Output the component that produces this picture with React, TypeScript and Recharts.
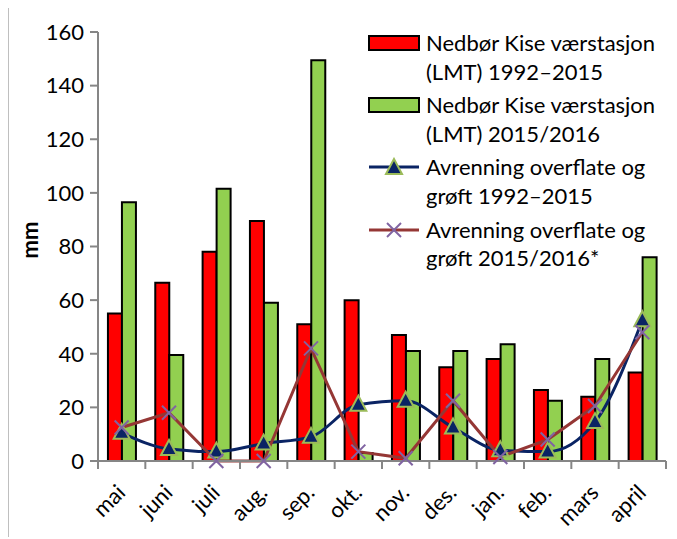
import React from 'react'
import { ComposedChart, Bar, Line, XAxis, YAxis, Label } from 'recharts'

const months = ['mai', 'juni', 'juli', 'aug.', 'sep.', 'okt.', 'nov.', 'des.', 'jan.', 'feb.', 'mars', 'april']
const rainNormal = [55, 66.5, 78, 89.5, 51, 60, 47, 35, 38, 26.5, 24, 33]
const rain1516 = [96.5, 39.5, 101.5, 59, 149.5, 3, 41, 41, 43.5, 22.5, 38, 76]
const runoffNormal = [10.5, 4.5, 3.5, 6.5, 9, 21, 22.5, 12.5, 4, 3.5, 14.5, 52.5]
const runoff1516 = [12.5, 18, 0, 0, 42, 3.5, 1, 22.5, 1.5, 8, 20.5, 48]
const yTicks = [0, 20, 40, 60, 80, 100, 120, 140, 160]

const legendLabels = [
  ['Nedbør Kise værstasjon', '(LMT) 1992–2015'],
  ['Nedbør Kise værstasjon', '(LMT) 2015/2016'],
  ['Avrenning overflate og', 'grøft 1992–2015'],
  ['Avrenning overflate og', 'grøft 2015/2016*'],
]

const data = months.map((m, i) => ({
  month: m,
  rainNormal: rainNormal[i],
  rain1516: rain1516[i],
  runoffNormal: runoffNormal[i],
  runoff1516: runoff1516[i],
}))

const FONT = 'Lato, "Open Sans", sans-serif'
const FS = 22
const W = 669
const H = 529
const M = { top: 24, right: 11, left: 30, bottom: 6 }
const Y_W = 60
const X_H = 70
const plotW = W - M.left - M.right - Y_W
const half = plotW / months.length / 2
const plotBottom = H - M.bottom - X_H

const NAVY = '#0a2464'
const BROWN = '#953735'
const PURPLE = '#8064a2'
const OLIVE = '#9bbb59'

const Triangle = ({ cx, cy }: any) => {
  if (cx == null || cy == null) return null
  return (
    <polygon
      points={`${cx},${cy - 9} ${cx - 8},${cy + 6} ${cx + 8},${cy + 6}`}
      fill={NAVY}
      stroke={OLIVE}
      strokeWidth={2}
    />
  )
}

const Cross = ({ cx, cy }: any) => {
  if (cx == null || cy == null) return null
  return (
    <g stroke={PURPLE} strokeWidth={2}>
      <line x1={cx - 7} y1={cy - 7} x2={cx + 7} y2={cy + 7} />
      <line x1={cx - 7} y1={cy + 7} x2={cx + 7} y2={cy - 7} />
    </g>
  )
}

const MonthTick = ({ x, y, payload, index }: any) => (
  <g>
    <line x1={x - half} y1={plotBottom} x2={x - half} y2={plotBottom + 8} stroke="#868686" strokeWidth={2} />
    {index === months.length - 1 && (
      <line x1={x + half} y1={plotBottom} x2={x + half} y2={plotBottom + 8} stroke="#868686" strokeWidth={2} />
    )}
    <text
      x={x + 5}
      y={y + 25}
      transform={`rotate(-45, ${x + 5}, ${y + 25})`}
      textAnchor="end"
      fontSize={FS}
      fontFamily={FONT}
      fill="#000"
    >
      {payload.value}
    </text>
  </g>
)

function LegendBox() {
  const rowTop = [43, 105, 167, 229.5]
  return (
    <div style={{ position: 'absolute', left: 0, top: 0, fontFamily: FONT, fontSize: FS, color: '#000' }}>
      {legendLabels.map((lines, i) => (
        <div key={i}>
          <svg
            width={54}
            height={20}
            style={{ position: 'absolute', left: 367, top: rowTop[i] - 10 }}
          >
            {i === 0 && <rect x={2} y={3} width={50} height={14} fill="#ff0000" stroke="#000" strokeWidth={2} />}
            {i === 1 && <rect x={2} y={3} width={50} height={14} fill="#92d050" stroke="#000" strokeWidth={2} />}
            {i === 2 && (
              <g>
                <line x1={2} y1={10} x2={52} y2={10} stroke={NAVY} strokeWidth={3} />
                <Triangle cx={27} cy={11} />
              </g>
            )}
            {i === 3 && (
              <g>
                <line x1={2} y1={10} x2={52} y2={10} stroke={BROWN} strokeWidth={3} />
                <Cross cx={27} cy={10} />
              </g>
            )}
          </svg>
          {lines.map((t, j) => (
            <div
              key={j}
              style={{ position: 'absolute', left: 426, top: rowTop[i] - 14 + j * 28.5, whiteSpace: 'nowrap', lineHeight: '28px' }}
            >
              {t}
            </div>
          ))}
        </div>
      ))}
    </div>
  )
}

export default function App() {
  return (
    <div style={{ position: 'relative', width: W, height: H }}>
      <div
        style={{
          position: 'absolute',
          left: 0,
          top: -2,
          width: 700,
          height: 532,
          border: '1px solid #bfbfbf',
          boxSizing: 'border-box',
          pointerEvents: 'none',
        }}
      />
      <ComposedChart width={W} height={H} data={data} margin={M} barCategoryGap="21%" barGap={0}>
        <XAxis
          dataKey="month"
          height={X_H}
          interval={0}
          tickLine={false}
          axisLine={{ stroke: '#868686', strokeWidth: 2 }}
          tick={<MonthTick />}
        />
        <YAxis
          width={Y_W}
          domain={[0, 160]}
          ticks={yTicks}
          interval={0}
          tickSize={8}
          tickMargin={6}
          tickLine={{ stroke: '#868686', strokeWidth: 2 }}
          axisLine={{ stroke: '#868686', strokeWidth: 2 }}
          tick={{ fontSize: FS, fill: '#000', fontFamily: FONT }}
        >
          <Label
            content={() => (
              <text
                x={30}
                y={232}
                transform="rotate(-90, 30, 232)"
                textAnchor="middle"
                fontSize={FS}
                fontWeight="bold"
                fontFamily={FONT}
                fill="#000"
              >
                mm
              </text>
            )}
          />
        </YAxis>
        <Bar dataKey="rainNormal" fill="#ff0000" stroke="#000" strokeWidth={2} isAnimationActive={false} />
        <Bar dataKey="rain1516" fill="#92d050" stroke="#000" strokeWidth={2} isAnimationActive={false} />
        <Line
          dataKey="runoffNormal"
          type="monotone"
          stroke={NAVY}
          strokeWidth={3}
          dot={<Triangle />}
          activeDot={false}
          isAnimationActive={false}
        />
        <Line
          dataKey="runoff1516"
          type="linear"
          stroke={BROWN}
          strokeWidth={3}
          dot={<Cross />}
          activeDot={false}
          isAnimationActive={false}
        />
      </ComposedChart>
      <div style={{ position: 'absolute', left: -8, top: -8 }}>
        <LegendBox />
      </div>
    </div>
  )
}
